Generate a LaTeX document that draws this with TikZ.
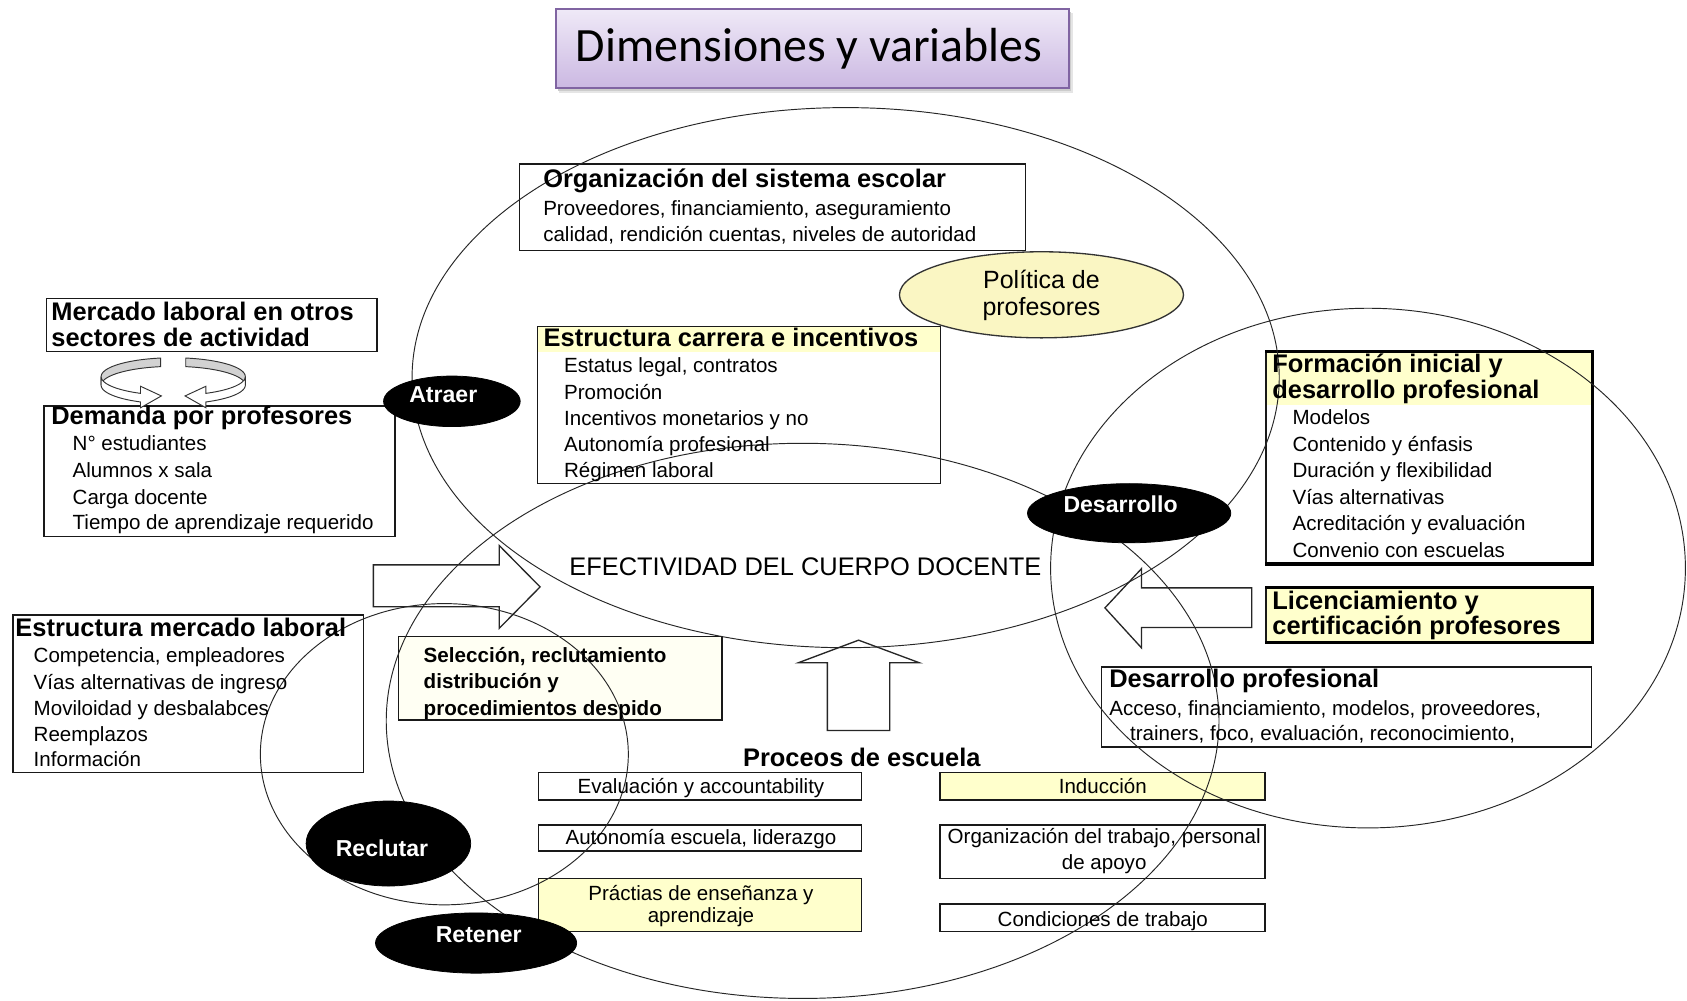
\documentclass[tikz,border=0pt]{standalone}
\usepackage{fontspec}
\setmainfont{Liberation Sans}
\newfontfamily\carlito{Carlito}
\usetikzlibrary{shapes.geometric,fit}
\definecolor{lyel}{HTML}{FFFFCC}
\definecolor{pyel}{HTML}{FAF6C3}
\definecolor{syel}{HTML}{FFFFF3}
\definecolor{ttop}{HTML}{EFE9F7}
\definecolor{tbot}{HTML}{CBB8E2}
\definecolor{tbrd}{HTML}{8064A2}
\newcommand\fbody{\fontsize{10.87pt}{13pt}\selectfont}
\newcommand\fhead{\bfseries\fontsize{13.45pt}{16pt}\selectfont}
\newcommand\fselec{\bfseries\fontsize{10.9pt}{13pt}\selectfont}
\newcommand\fnodetxt{\bfseries\fontsize{12.2pt}{14pt}\selectfont}
\newcommand\fpolit{\fontsize{13.2pt}{16pt}\selectfont}
\newcommand\fbigtitle{\carlito\fontsize{25.3pt}{30pt}\selectfont}
\newcommand\fefect{\fontsize{13.45pt}{16pt}\selectfont}
\newcommand\mkbox[6]{\path (#2,#3) coordinate (#1-nw) (#4,#5) coordinate (#1-se);
  \node[fit={(#1-nw)(#1-se)}, inner sep=0pt, #6] (#1) {};}
\tikzset{
  bigell/.style={line width=0.5pt, draw=black!85},
  box/.style={draw=black!90, line width=0.8pt},
  txt/.style={inner sep=0pt, anchor=west, text height=0.7em, text depth=0pt, font=\fbody},
  hd/.style={txt, font=\fhead},
  sel/.style={txt, font=\fselec},
  ctr/.style={inner sep=0pt, anchor=center, text height=0.7em, text depth=0pt},
  blk/.style={ellipse, fill=black, draw=black, inner sep=0pt},
  wtxt/.style={ctr, text=white, font=\fnodetxt},
  barrow/.style={draw=black!85, line width=0.7pt, line join=miter},
  ringg/.style={fill=gray!35, draw=black!80, line width=0.5pt},
  ringw/.style={fill=white, draw=black!80, line width=0.5pt},
}
\begin{document}
\begin{tikzpicture}[x=0.2mm,y=-0.2mm]
\useasboundingbox[fill=white] (0,0) rectangle (1568,930);

% ---------- title ----------
\fill[gray!20] (520,12) rectangle (997.5,86.5);
\fill[gray!40] (519,11) rectangle (995.5,84.5);
\mkbox{title}{516.8}{8.7}{993.2}{82}{top color=ttop, bottom color=tbot, draw=tbrd, line width=1.1pt}
\node[ctr, font=\fbigtitle] (titletxt) at (752,51) {Dimensiones y variables};

% ---------- fills ----------
\node[ellipse, fill=pyel, draw=black!80, line width=0.7pt, minimum width=52.8mm, minimum height=16mm, inner sep=0pt] (politica) at (968,274) {};
\fill[lyel] (499.6,303.6) rectangle (874,326.9);
\fill[lyel] (1176.6,327.6) rectangle (1479.3,376.4);

% ---------- boxes ----------
\mkbox{org}{483}{152.5}{953}{233}{box}
\mkbox{carrera}{499.6}{303.6}{874}{449.2}{box}
\mkbox{mercado}{43.2}{277.3}{350.4}{326.9}{box}
\mkbox{demanda}{41}{377.4}{367.3}{498.8}{box}
\mkbox{formacion}{1176.6}{327.6}{1479.3}{523.5}{box}
\mkbox{licen}{1176.6}{546.4}{1479.3}{596.5}{box, fill=lyel}
\mkbox{estmerc}{12}{571.6}{337.8}{718}{box}
\mkbox{selec}{370.6}{591.8}{671}{669.2}{box, fill=syel}
\mkbox{desprof}{1023.6}{619.8}{1479.3}{694.4}{box}
\mkbox{pA}{500.3}{717.8}{800.8}{743.6}{box}
\mkbox{pB}{873.7}{717.8}{1175.8}{743.6}{box, fill=lyel}
\mkbox{pC}{500.3}{766.8}{800.8}{791}{box}
\mkbox{pD}{873.7}{766.8}{1175.8}{816.3}{box}
\mkbox{pE}{500.3}{816.4}{800.8}{866}{box, fill=lyel}
\mkbox{pF}{873.7}{840.2}{1175.8}{866}{box}
\draw[line width=1.6pt] (formacion.north west) -- (formacion.north east) -- (formacion.south east) -- (formacion.south west);
\draw[line width=1.6pt] (licen.north west) -- (licen.north east) -- (licen.south east) -- (licen.south west);

% ---------- big ellipses ----------
\draw[bigell] (786,351) ellipse [x radius=403, y radius=251];
\draw[bigell] (746,670) ellipse [x radius=387, y radius=258];
\draw[bigell] (1271.5,528) ellipse [x radius=295, y radius=241.5];
\draw[bigell] (413,701) ellipse [x radius=171, y radius=140];

% ---------- block arrows ----------
\draw[barrow] (347,525) -- (464,525) -- (464,507) -- (502,545.5) -- (464,584) -- (464,564) -- (347,564) -- cycle;
\draw[barrow] (1163.5,546.4) -- (1061,546.4) -- (1061,528.5) -- (1027,565) -- (1061,602.2) -- (1061,583.2) -- (1163.5,583.2) -- cycle;
\draw[barrow] (769,679) -- (769,616) -- (742,616) -- (798,595) -- (854.5,616) -- (827,616) -- (827,679) -- cycle;

% ---------- ring arrows ----------
\filldraw[ringg] plot[domain=100:180, samples=25] ({161+67*cos(\x)},{350-17.5*sin(\x)}) -- plot[domain=180:100, samples=25] ({161+67*cos(\x)},{358-17.5*sin(\x)}) -- cycle;
\filldraw[ringw] plot[domain=180:243, samples=25] ({161+67*cos(\x)},{350-17.5*sin(\x)}) -- (130.6,359) -- (150,368) -- (130.6,379) -- plot[domain=243:180, samples=25] ({161+67*cos(\x)},{358-17.5*sin(\x)}) -- cycle;
\filldraw[ringg] plot[domain=80:0, samples=25] ({161+67*cos(\x)},{350-17.5*sin(\x)}) -- plot[domain=0:80, samples=25] ({161+67*cos(\x)},{358-17.5*sin(\x)}) -- cycle;
\filldraw[ringw] plot[domain=0:-63, samples=25] ({161+67*cos(\x)},{350-17.5*sin(\x)}) -- (191.4,359) -- (172,368) -- (191.4,379) -- plot[domain=-63:0, samples=25] ({161+67*cos(\x)},{358-17.5*sin(\x)}) -- cycle;

% ---------- texts ----------
\node[hd] (orgT) at (504.6,168) {Organización del sistema escolar};
\node[txt] (orgL1) at (504.6,194.5) {Proveedores, financiamiento, aseguramiento};
\node[txt] (orgL2) at (504.6,218) {calidad, rendición cuentas, niveles de autoridad};

\node[ctr, font=\fpolit] (polT1) at (968,262) {Política de};
\node[ctr, font=\fpolit] (polT2) at (968,287.5) {profesores};

\node[hd] (carT) at (505,316) {Estructura carrera e incentivos};
\node[txt] (carL1) at (524,340.2) {Estatus legal, contratos};
\node[txt] (carL2) at (524,365) {Promoción};
\node[txt] (carL3) at (524,389.2) {Incentivos monetarios y no};
\node[txt] (carL4) at (524,413.6) {Autonomía profesional};
\node[txt] (carL5) at (524,437.8) {Régimen laboral};

\node[hd] (merT1) at (47.4,292) {Mercado laboral en otros};
\node[hd] (merT2) at (47.4,316) {sectores de actividad};

\node[hd] (demT) at (47.4,388.5) {Demanda por profesores};
\node[txt] (demL1) at (67.2,413) {N° estudiantes};
\node[txt] (demL2) at (67.2,437.8) {Alumnos x sala};
\node[txt] (demL3) at (67.2,462.6) {Carga docente};
\node[txt] (demL4) at (67.2,486.4) {Tiempo de aprendizaje requerido};

\node[hd] (forT1) at (1182.3,340) {Formación inicial y};
\node[hd] (forT2) at (1182.3,364.5) {desarrollo profesional};
\node[txt] (forL1) at (1201,388.7) {Modelos};
\node[txt] (forL2) at (1201,413.6) {Contenido y énfasis};
\node[txt] (forL3) at (1201,437.8) {Duración y flexibilidad};
\node[txt] (forL4) at (1201,462.8) {Vías alternativas};
\node[txt] (forL5) at (1201,486.9) {Acreditación y evaluación};
\node[txt] (forL6) at (1201,511.9) {Convenio con escuelas};

\node[hd] (licT1) at (1182.3,560.5) {Licenciamiento y};
\node[hd] (licT2) at (1182.3,584) {certificación profesores};

\node[ctr, font=\fefect] (efect) at (748.5,529) {EFECTIVIDAD DEL CUERPO DOCENTE};

\node[hd] (emT) at (14,585) {Estructura mercado laboral};
\node[txt] (emL1) at (31,610) {Competencia, empleadores};
\node[txt] (emL2) at (31,634.5) {Vías alternativas de ingreso};
\node[txt] (emL3) at (31,658.4) {Moviloidad y desbalabces};
\node[txt] (emL4) at (31,683) {Reemplazos};
\node[txt] (emL5) at (31,706.5) {Información};

\node[sel] (selL1) at (393.5,609.7) {Selección, reclutamiento};
\node[sel] (selL2) at (393.5,633.6) {distribución y};
\node[sel] (selL3) at (393.5,658.4) {procedimientos despido};

\node[hd] (dpT) at (1030.7,632.5) {Desarrollo profesional};
\node[txt] (dpL1) at (1030.7,658.6) {Acceso, financiamiento, modelos, proveedores,};
\node[txt] (dpL2) at (1050,682.5) {trainers, foco, evaluación, reconocimiento,};

\node[ctr, font=\fhead] (proc) at (801,706) {Proceos de escuela};
\node[ctr, font=\fbody] (pAT) at (651.5,731.2) {Evaluación y accountability};
\node[ctr, font=\fbody] (pBT) at (1025,731.2) {Inducción};
\node[ctr, font=\fbody] (pCT) at (651.5,779.2) {Autonomía escuela, liderazgo};
\node[ctr, font=\fbody] (pDT1) at (1026.3,777.6) {Organización del trabajo, personal};
\node[ctr, font=\fbody] (pDT2) at (1026.3,802.4) {de apoyo};
\node[ctr, font=\fbody] (pET1) at (651.5,831) {Práctias de enseñanza y};
\node[ctr, font=\fbody] (pET2) at (651.5,851) {aprendizaje};
\node[ctr, font=\fbody] (pFT) at (1025,855) {Condiciones de trabajo};

% ---------- black nodes ----------
\node[blk, minimum width=25.4mm, minimum height=9.4mm] (atraer) at (420,373) {};
\node[wtxt] (atraerT) at (412,368) {Atraer};
\node[blk, minimum width=37.8mm, minimum height=11mm] (desarrollo) at (1049.5,477) {};
\node[wtxt] (desarrolloT) at (1041.5,470) {Desarrollo};
\node[blk, minimum width=30.6mm, minimum height=15.8mm] (reclutar) at (361,784) {};
\node[wtxt] (reclutarT) at (355,790) {Reclutar};
\node[blk, minimum width=37.4mm, minimum height=11.2mm] (retener) at (442.5,876.5) {};
\node[wtxt] (retenerT) at (445,870) {Retener};
\end{tikzpicture}
\end{document}
